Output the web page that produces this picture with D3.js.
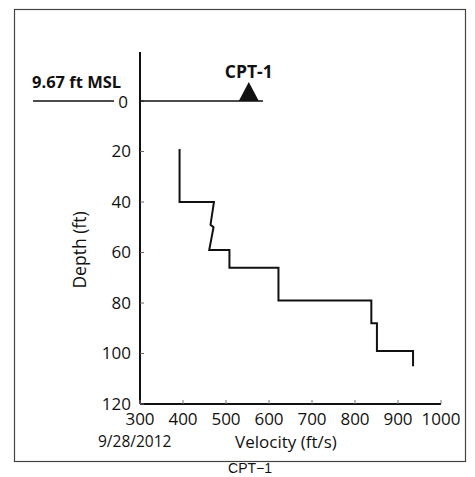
<!DOCTYPE html>
<html><head><meta charset="utf-8">
<script src="https://cdn.jsdelivr.net/npm/d3@7"></script>
<style>body{margin:0;background:#fff}svg{display:block}</style>
</head><body>
<script>
const velocity = [392, 392, 472, 464, 471, 461, 508, 508, 622, 622, 838, 838, 851, 851, 935, 935];
const depth    = [19, 40, 40, 49, 50, 59, 59, 66, 66, 79, 79, 88, 88, 99, 99, 105];
const xTicks = [300, 400, 500, 600, 700, 800, 900, 1000];
const yTicks = [0, 20, 40, 60, 80, 100, 120];
const markerVelocity = 553;
const markerLabel = "CPT-1";
const elevationLabel = "9.67 ft MSL";
const dateLabel = "9/28/2012";
const titleText = "CPT\u22121";

const W = 475, H = 477;
const svg = d3.select("body").append("svg").attr("width", W).attr("height", H);
const x = d3.scaleLinear().domain([300, 1000]).range([140, 441]);
const y = d3.scaleLinear().domain([0, 120]).range([101, 404]);
const font = "'Open Sans', sans-serif";

svg.append("rect").attr("x", 14.5).attr("y", 9.5).attr("width", 451).attr("height", 452)
  .attr("fill", "none").attr("stroke", "#444").attr("stroke-width", 1.2);

// axes lines
svg.append("line").attr("x1", 140).attr("x2", 140).attr("y1", 52).attr("y2", y(120))
  .attr("stroke", "#111").attr("stroke-width", 2);
svg.append("line").attr("x1", 140).attr("x2", x(1000)).attr("y1", y(120)).attr("y2", y(120))
  .attr("stroke", "#111").attr("stroke-width", 2);

// y ticks
const yg = svg.append("g");
yTicks.forEach(t => {
  yg.append("line").attr("x1", 140).attr("x2", 144).attr("y1", y(t)).attr("y2", y(t))
    .attr("stroke", "#666").attr("stroke-width", 1);
  yg.append("text").attr("x", t === 0 ? 128 : 131).attr("y", y(t) + (t === 0 ? 1 : 0)).attr("dy", "0.35em")
    .attr("text-anchor", "end").attr("font-family", font).attr("font-size", 17)
    .attr("fill", "#111").text(t);
});
// x ticks
const xg = svg.append("g");
xTicks.forEach(t => {
  xg.append("line").attr("x1", x(t)).attr("x2", x(t)).attr("y1", y(120)).attr("y2", y(120) - 4)
    .attr("stroke", "#777").attr("stroke-width", 1);
  xg.append("text").attr("x", x(t)).attr("y", 419).attr("dy", "0.35em")
    .attr("text-anchor", "middle").attr("font-family", font).attr("font-size", 17)
    .attr("fill", "#111").text(t);
});

// MSL lines
svg.append("line").attr("x1", 33).attr("x2", 114).attr("y1", y(0)).attr("y2", y(0))
  .attr("stroke", "#111").attr("stroke-width", 1.3);
svg.append("line").attr("x1", 140).attr("x2", 263).attr("y1", y(0)).attr("y2", y(0))
  .attr("stroke", "#111").attr("stroke-width", 1.3);
svg.append("text").attr("x", 32).attr("y", 88).attr("font-family", font).attr("font-weight", "bold")
  .attr("font-size", 16.5).attr("fill", "#111").text(elevationLabel);

// marker
const mx = x(markerVelocity);
svg.append("path").attr("d", `M${mx - 10},${y(0)} L${mx},${y(0) - 19} L${mx + 10},${y(0)} Z`).attr("fill", "#111");
svg.append("text").attr("x", mx).attr("y", 78).attr("text-anchor", "middle").attr("font-family", font)
  .attr("font-weight", "bold").attr("font-size", 17.5).attr("fill", "#111").text(markerLabel);

// profile
const pts = velocity.map((v, i) => [v, depth[i]]);
svg.append("path").datum(pts)
  .attr("d", d3.line().x(d => x(d[0])).y(d => y(d[1])))
  .attr("fill", "none").attr("stroke", "#111").attr("stroke-width", 2);

// titles
svg.append("text").attr("transform", "translate(80,250) rotate(-90)").attr("text-anchor", "middle")
  .attr("dy", "0.35em")
  .attr("font-family", font).attr("font-size", 17.5).attr("fill", "#111").text("Depth (ft)");
svg.append("text").attr("x", 286).attr("y", 442).attr("dy", "0.35em").attr("text-anchor", "middle")
  .attr("font-family", font).attr("font-size", 17).attr("fill", "#111").text("Velocity (ft/s)");
svg.append("text").attr("x", 98).attr("y", 442).attr("dy", "0.35em")
  .attr("font-family", font).attr("font-size", 15.5).attr("fill", "#111").text(dateLabel);
svg.append("text").attr("x", 250).attr("y", 473).attr("text-anchor", "middle")
  .attr("font-family", "'Liberation Sans', Arial, sans-serif").attr("font-size", 14).attr("fill", "#111").text(titleText);
</script>
</body></html>
